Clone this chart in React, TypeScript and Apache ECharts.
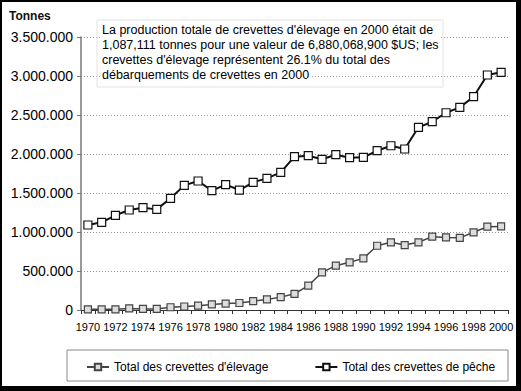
import React, { useEffect, useRef } from "react";
import * as echarts from "echarts";

const years: string[] = [];
for (let y = 1970; y <= 2000; y++) years.push(String(y));

const elevage = [
  9000, 9000, 9000, 20000, 14000, 14000, 35000, 45000, 55000, 72000,
  82000, 90000, 113000, 135000, 165000, 207000, 312000, 483000, 568000, 611000,
  662000, 824000, 868000, 833000, 868000, 940000, 931000, 925000, 996000, 1068000,
  1072000,
];

const peche = [
  1090000, 1124000, 1214000, 1282000, 1312000, 1290000, 1432000, 1598000, 1654000, 1530000,
  1607000, 1538000, 1637000, 1688000, 1765000, 1966000, 1978000, 1932000, 1991000, 1953000,
  1957000, 2042000, 2106000, 2064000, 2342000, 2414000, 2529000, 2598000, 2735000, 3013000,
  3047000,
];

const seriesNames = ["Total des crevettes d'élevage", "Total des crevettes de pêche"];
const yUnit = "Tonnes";
const noteLines = [
  "La production totale de crevettes d'élevage en 2000 était de",
  "1,087,111 tonnes pour une valeur de 6,880,068,900 $US; les",
  "crevettes d'élevage représentent 26.1% du total des",
  "débarquements de crevettes en 2000",
];

const fmt = (v: number) =>
  v === 0 ? "0" : String(Math.round(v)).replace(/\B(?=(\d{3})+(?!\d))/g, ".");

export default function App() {
  const ref = useRef<HTMLDivElement>(null);
  useEffect(() => {
    if (!ref.current) return;
    const chart = echarts.init(ref.current, undefined, { renderer: "svg" });
    const font = "Liberation Sans, Arial, sans-serif";
    const noteGraphics = noteLines.map((t, i) => ({
      type: "text",
      left: 100,
      top: 22 + i * 15,
      z: 20,
      style: {
        text: t,
        fontSize: 12.5,
        fontFamily: font,
        fill: "#000",
        backgroundColor: "#fff",
        padding: [1, 2],
      },
    }));
    chart.setOption({
      animation: false,
      backgroundColor: "#fff",
      textStyle: { fontFamily: font },
      grid: { left: 81, right: 13, top: 37, bottom: 81, containLabel: false },
      xAxis: {
        type: "category",
        data: years,
        boundaryGap: true,
        axisLine: { lineStyle: { color: "#333", width: 1.2 } },
        axisTick: { show: true, interval: 0, length: 4, lineStyle: { color: "#333" } },
        axisLabel: { interval: 1, fontSize: 11, color: "#000", margin: 11, fontFamily: font },
        splitLine: { show: false },
      },
      yAxis: {
        type: "value",
        min: 0,
        max: 3500000,
        interval: 500000,
        axisLine: { show: true, lineStyle: { color: "#777", width: 1.5 } },
        axisTick: { show: true, length: 4, lineStyle: { color: "#777" } },
        axisLabel: {
          fontSize: 14,
          color: "#000",
          margin: 8,
          fontFamily: font,
          formatter: (v: number) => fmt(v),
        },
        splitLine: { show: true, lineStyle: { color: "#999", type: [1, 2], width: 1 } },
      },
      legend: {
        left: 86,
        top: 361,
        padding: 0,
        itemWidth: 22,
        itemHeight: 8,
        itemGap: 46,
        textStyle: { fontSize: 12, color: "#000", fontFamily: font },
        data: seriesNames,
      },
      series: [
        {
          name: seriesNames[0],
          type: "line",
          data: elevage,
          symbol: "rect",
          symbolSize: 7,
          lineStyle: { color: "#444", width: 1.5 },
          itemStyle: { color: "#ddd", borderColor: "#444", borderWidth: 1.2 },
          z: 3,
        },
        {
          name: seriesNames[1],
          type: "line",
          data: peche,
          symbol: "rect",
          symbolSize: 8,
          lineStyle: { color: "#111", width: 2 },
          itemStyle: { color: "#fff", borderColor: "#111", borderWidth: 1.2 },
          z: 4,
        },
      ],
      graphic: [
        {
          type: "text",
          left: 9,
          top: 10,
          style: { text: yUnit, fontSize: 12, fontFamily: font, fill: "#111", fontWeight: 600 },
        },
        {
          type: "rect",
          shape: { x: 97, y: 20, width: 346, height: 67 },
          style: { fill: "none", stroke: "#e2e2e2", lineWidth: 1 },
          z: 15,
        },
        ...noteGraphics,
        {
          type: "rect",
          shape: { x: 67, y: 350, width: 441, height: 31 },
          style: { fill: "none", stroke: "#888", lineWidth: 1 },
          z: 15,
        },
        { type: "rect", shape: { x: 0, y: 0, width: 521, height: 2 }, style: { fill: "#000" }, z: 30 },
        { type: "rect", shape: { x: 0, y: 0, width: 2, height: 391 }, style: { fill: "#000" }, z: 30 },
        { type: "rect", shape: { x: 516, y: 0, width: 5, height: 391 }, style: { fill: "#000" }, z: 30 },
        { type: "rect", shape: { x: 0, y: 386, width: 521, height: 5 }, style: { fill: "#000" }, z: 30 },
      ],
    });
    return () => chart.dispose();
  }, []);
  return (
    <div
      ref={ref}
      style={{ position: "fixed", left: 0, top: 0, width: 521, height: 391, background: "#fff" }}
    />
  );
}
